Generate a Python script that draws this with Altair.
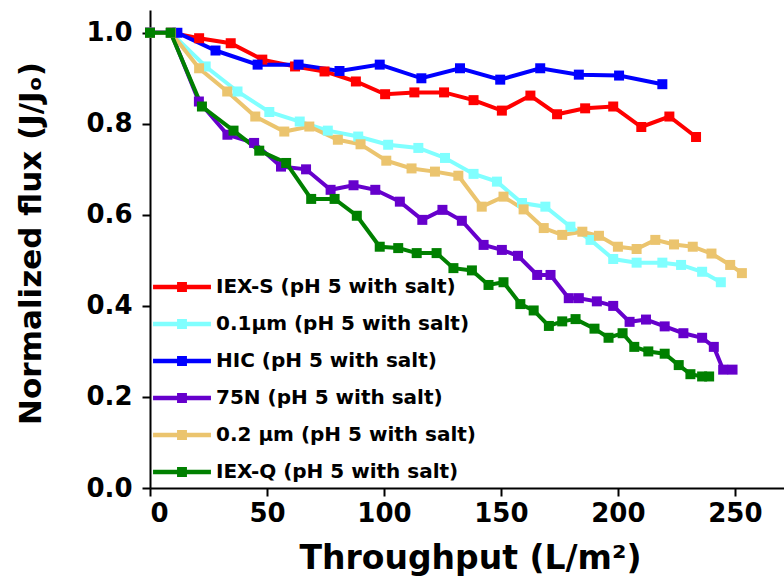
import altair as alt
import pandas as pd

series = [
    "IEX-S (pH 5 with salt)",
    "\u20020.1\u03bcm (pH 5 with salt)",
    "HIC (pH 5 with salt)",
    "75N (pH 5 with salt)",
    "0.2 \u03bcm (pH 5 with salt)",
    "IEX-Q (pH 5 with salt)",
]
colors = ["#FF0000", "#80FFFF", "#0000FF", "#6600CC", "#EBC46E", "#008000"]

iexs_x = [0, 9, 21, 34.5, 48, 62, 74.6, 88, 100.5, 113, 125.7, 138.3, 150.4, 162.6, 174, 186, 198, 210, 222, 233.4]
iexs_y = [1.0, 1.0, 0.988, 0.977, 0.941, 0.926, 0.915, 0.893, 0.865, 0.869, 0.869, 0.852, 0.829, 0.862, 0.821, 0.834, 0.838, 0.793, 0.816, 0.771]

c01_x = [0, 9, 23.8, 37.4, 51, 64, 76, 89, 101.8, 114.7, 126.1, 138.3, 148.3, 159, 169, 179.7, 188.3, 198, 208, 219, 227, 236, 244]
c01_y = [1.0, 1.0, 0.926, 0.871, 0.826, 0.805, 0.785, 0.772, 0.754, 0.747, 0.725, 0.690, 0.673, 0.626, 0.618, 0.574, 0.545, 0.503, 0.495, 0.495, 0.49, 0.475, 0.452]

hic_x = [0, 11.7, 28, 46, 63.5, 81, 98.2, 116, 132.5, 149.7, 166.8, 183.3, 200.5, 219]
hic_y = [1.0, 1.0, 0.961, 0.930, 0.930, 0.916, 0.930, 0.900, 0.922, 0.897, 0.922, 0.908, 0.906, 0.887]

n75_x = [0, 9, 20.9, 33.1, 44.5, 56, 66.7, 77.2, 87, 96.3, 106.8, 116.4, 125, 133.3, 142.6, 150.4, 157.3, 165.5, 171.2, 179, 183.3, 191, 198, 205, 212, 220, 228, 236, 241, 245, 249]
n75_y = [1.0, 1.0, 0.849, 0.776, 0.758, 0.706, 0.700, 0.655, 0.665, 0.655, 0.629, 0.589, 0.611, 0.587, 0.534, 0.523, 0.51, 0.468, 0.468, 0.417, 0.417, 0.41, 0.40, 0.365, 0.37, 0.355, 0.34, 0.33, 0.31, 0.26, 0.26]

c02_x = [0, 9, 21, 33, 45, 57.4, 68.1, 80.3, 90, 101, 111.8, 121.8, 131.8, 141.8, 151.1, 159.7, 168.3, 176.2, 184.8, 191.9, 200, 208, 216, 224, 232, 240, 248, 253]
c02_y = [1.0, 1.0, 0.922, 0.871, 0.816, 0.783, 0.794, 0.765, 0.755, 0.719, 0.702, 0.695, 0.686, 0.618, 0.640, 0.612, 0.571, 0.556, 0.563, 0.554, 0.53, 0.525, 0.545, 0.535, 0.53, 0.515, 0.49, 0.472]

iexq_x = [0, 8.8, 22.2, 35.7, 46.7, 58.2, 68.9, 78.9, 88.4, 98.2, 106.1, 114, 122.5, 129.7, 137.6, 144.7, 151.1, 158.3, 164, 170.5, 176.2, 181.9, 190, 196, 202, 207, 213, 220, 226, 231, 236, 239]
iexq_y = [1.0, 1.0, 0.838, 0.785, 0.741, 0.714, 0.635, 0.635, 0.598, 0.530, 0.527, 0.516, 0.516, 0.483, 0.478, 0.446, 0.452, 0.404, 0.39, 0.356, 0.366, 0.371, 0.35, 0.33, 0.34, 0.31, 0.30, 0.295, 0.27, 0.25, 0.245, 0.245]

all_x = [iexs_x, c01_x, hic_x, n75_x, c02_x, iexq_x]
all_y = [iexs_y, c01_y, hic_y, n75_y, c02_y, iexq_y]

rows = []
for k, (name, xs, ys) in enumerate(zip(series, all_x, all_y)):
    for i, (xv, yv) in enumerate(zip(xs, ys)):
        rows.append({"series": name, "x": xv, "y": yv, "idx": i, "k": k})
df = pd.DataFrame(rows)

FONT = "DejaVu Sans"

legend = alt.Legend(
    title=None,
    orient="none",
    legendX=17,
    legendY=262,
    padding=0,
    symbolType="M-1.93,-0.15H1.93V0.15H-1.93Z M-0.33,-0.33H0.33V0.33H-0.33Z",
    symbolSize=900,
    symbolStrokeWidth=0,
    labelFont=FONT,
    labelFontSize=20,
    labelFontWeight="bold",
    labelColor="black",
    labelOffset=19,
    rowPadding=12,
    labelLimit=400,
)

color = alt.Color(
    "series:N",
    scale=alt.Scale(domain=series, range=colors),
    sort=series,
    legend=legend,
)

x_enc = alt.X(
    "x:Q",
    scale=alt.Scale(domain=[0, 271], nice=False, zero=False),
    axis=alt.Axis(
        values=[0, 50, 100, 150, 200, 250],
        title="Throughput (L/m\u00b2)",
        titleX=320,
        titleY=70,
        titleAlign="center",
        titleBaseline="middle",
        titleFontSize=33,
        labelPadding=4,
    ),
)
y_enc = alt.Y(
    "y:Q",
    scale=alt.Scale(domain=[0, 1.05], nice=False),
    axis=alt.Axis(
        values=[0, 0.2, 0.4, 0.6, 0.8, 1.0],
        format=".1f",
        title="Normalized flux (J/J\u2092)",
        titleX=-119,
        titleY=233,
        titleAngle=270,
        titleAlign="center",
        titleBaseline="middle",
        titleFontSize=31,
        labelPadding=10,
    ),
)

base = alt.Chart(df)
lines = base.mark_line(strokeWidth=4).encode(
    x=x_enc, y=y_enc, color=color, order="idx:Q"
)
points = base.mark_point(shape="square", filled=True, size=100, opacity=1).encode(
    x=x_enc, y=y_enc, color=color, order="k:Q"
)

chart = (
    alt.layer(lines, points)
    .properties(
        width=634,
        height=478,
        autosize=alt.AutoSizeParams(type="none"),
        padding={"left": 150, "top": 10, "right": 0, "bottom": 99},
        background="white",
    )
    .configure_view(stroke=None)
    .configure_axis(
        grid=False,
        domainColor="black",
        domainWidth=2,
        tickColor="black",
        tickWidth=2,
        tickSize=8,
        labelFont=FONT,
        labelFontSize=26,
        labelFontWeight="bold",
        labelColor="black",
        titleFont=FONT,
        titleFontWeight="bold",
        titleColor="black",
    )
)

chart.save("out.html", embed_options={"renderer": "svg", "actions": False})
